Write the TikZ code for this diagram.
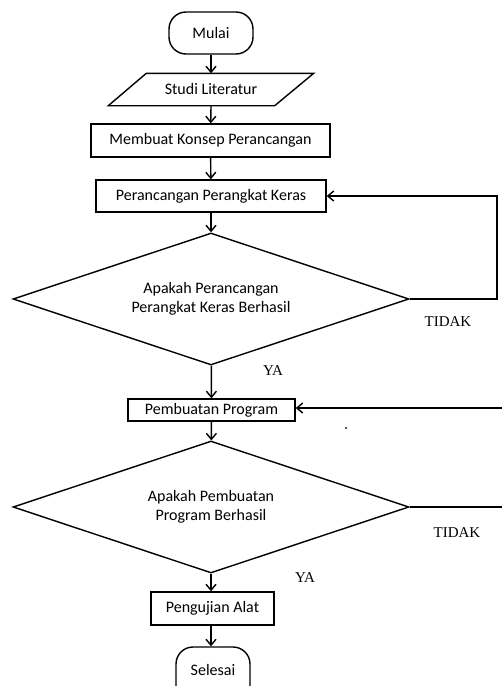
\documentclass[tikz,border=0pt]{standalone}
\usepackage{fontspec}
\setmainfont{Carlito}
\newfontfamily\tnr{Liberation Serif}
\usetikzlibrary{shapes.geometric,arrows.meta}
\definecolor{dotblue}{RGB}{20,20,140}
\tikzset{
  base/.style={line width=1.4pt, inner sep=0pt, font=\fontsize{16}{19.5}\selectfont, align=center},
  procbox/.style={base, draw, rectangle},
  termbox/.style={base, draw, rectangle, rounded corners=17pt},
  iobox/.style={base, rectangle},
  decbox/.style={base, draw, diamond, shape aspect=3},
  flow/.style={line width=1.4pt, -{Straight Barb[length=6pt,width=10pt,line width=1.4pt]}},
  plain/.style={line width=1.4pt},
  lbl/.style={inner sep=0pt, font=\tnr\fontsize{15}{18}\selectfont}
}
\begin{document}
\begin{tikzpicture}[x=1pt,y=-1pt]
\useasboundingbox (0,0) rectangle (502,686);
\clip (0,0) rectangle (502,686);
\node[termbox, minimum width=84, minimum height=42] (mulai) at (211,33) {Mulai};
\node[iobox, minimum width=204, minimum height=31] (studi) at (211,89.5) {Studi Literatur};
\draw[plain, line join=miter] ([xshift=38pt]studi.north west) -- (studi.north east) -- ([xshift=-39pt]studi.south east) -- (studi.south west) -- cycle;
\node[procbox, minimum width=239, minimum height=33] (konsep) at (210.5,140.5) {Membuat Konsep Perancangan};
\node[procbox, minimum width=230, minimum height=32] (keras) at (211,196) {Perancangan Perangkat Keras};
\node[decbox, minimum width=396, minimum height=132] (d1) at (211,299) {Apakah Perancangan\\Perangkat Keras Berhasil};
\node[procbox, minimum width=167, minimum height=22] (prog) at (211.5,410) {Pembuatan Program};
\node[decbox, minimum width=396, minimum height=132] (d2) at (211,507) {Apakah Pembuatan\\Program Berhasil};
\node[procbox, minimum width=123, minimum height=33] (uji) at (212.5,608.5) {Pengujian Alat};
\node[termbox, minimum width=74, text height=28pt, text depth=28pt] (selesai) at (213,675) {Selesai};

\node[lbl] (ya1) at (273,371) {YA};
\node[lbl] (tidak1) at (448,322) {TIDAK};
\node[lbl] (ya2) at (305,578) {YA};
\node[lbl] (tidak2) at (457,533) {TIDAK};

\coordinate (r1) at (497,299);
\coordinate (r2) at (510,408);
\coordinate (r3) at (510,507);

\draw[flow] (mulai) -- (studi.north);
\draw[flow] (studi.south) -- (konsep);
\draw[flow] (konsep) -- (keras);
\draw[flow] (keras) -- (d1);
\draw[flow] (d1) -- (prog);
\draw[flow] (prog) -- (d2);
\draw[flow] (d2.south) -- (uji.north -| d2.south);
\draw[flow] (uji.south -| d2.south) -- (selesai.north -| d2.south);
\draw[flow] (d1.east) -- (r1) |- (keras.east);
\draw[flow] (r2) -- (prog.east |- r2);
\draw[plain] (d2.east) -- (r3);
\fill[dotblue] (346,428) circle (1.1);
\end{tikzpicture}
\end{document}
